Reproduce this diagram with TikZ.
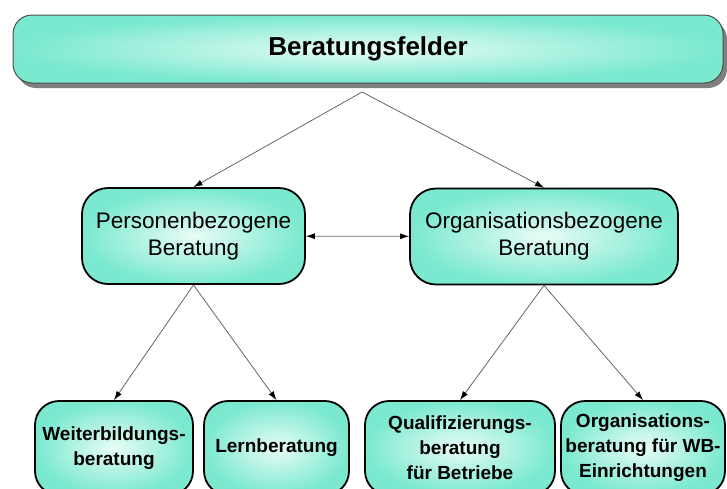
\documentclass[tikz,border=0pt]{standalone}
\usepackage{fontspec}
\setmainfont{Liberation Sans}
\usepackage{tikz}
\usetikzlibrary{positioning, arrows.meta, shadows}

\definecolor{aqua}{RGB}{122,233,207}
\definecolor{glow}{RGB}{232,252,246}

\begin{document}
\begin{tikzpicture} [
        x = 1pt, y = -1pt,
        on grid,
        field/.style = {draw, line width=1.8pt, rounded corners=26pt, align=center,
                        inner sep=0pt, inner color=glow, outer color=aqua},
        head/.style  = {field, line width=1pt, draw=black!70, rounded corners=19pt,
                        minimum width=710pt, minimum height=68pt,
                        font=\fontsize{26}{30}\selectfont\bfseries,
                        drop shadow={shadow xshift=4pt, shadow yshift=-5pt, fill=black!50, opacity=1}},
        area/.style  = {field, minimum height=96pt, font=\fontsize{22.5}{27}\selectfont},
        leaf/.style  = {field, rounded corners=24pt, minimum height=94pt,
                        font=\fontsize{19}{25}\selectfont\bfseries},
        link/.style  = {draw=black!60, line width=0.8pt, -{Latex[length=9pt, width=6pt, color=black]}},
        both/.style  = {link, {Latex[length=9pt, width=6pt, color=black]}-{Latex[length=9pt, width=6pt, color=black]}}
    ]

    \useasboundingbox (0,0) rectangle (727,488);
    \clip (0,0) rectangle (727,488);

    \node[head] (felder) at (368,49) {Beratungsfelder};
    \coordinate[below=43pt of felder, xshift=-6pt] (apex);

    \node[area, minimum width=223pt, below left =187pt and 174.5pt of felder] (person) {Personenbezogene\\Beratung};
    \node[area, minimum width=268pt, below right=187.5pt and 176pt of felder] (orga)   {Organisationsbezogene\\Beratung};

    \node[leaf, minimum width=158pt, below left =212pt and 79.5pt of person] (weiter) {Weiterbildungs-\\beratung};
    \node[leaf, minimum width=145pt, below right=212pt and 83pt of person]   (lern)   {Lernberatung};
    \node[leaf, minimum width=190pt, below left =211.5pt and 84pt of orga]   (quali)  {Qualifizierungs-\\beratung\\für Betriebe};
    \node[leaf, minimum width=164pt, below right=211.5pt and 99pt of orga]   (wbein)  {Organisations-\\beratung für WB-\\Einrichtungen};

    \draw[link] (apex) -- (person.north);
    \draw[link] (apex) -- (orga.north);
    \draw[link] (person.south) -- (weiter.north);
    \draw[link] (person.south) -- (lern.north);
    \draw[link] (orga.south) -- (quali.north);
    \draw[link] (orga.south) -- (wbein.north);
    \draw[both] (person) -- (orga);

\end{tikzpicture}
\end{document}
